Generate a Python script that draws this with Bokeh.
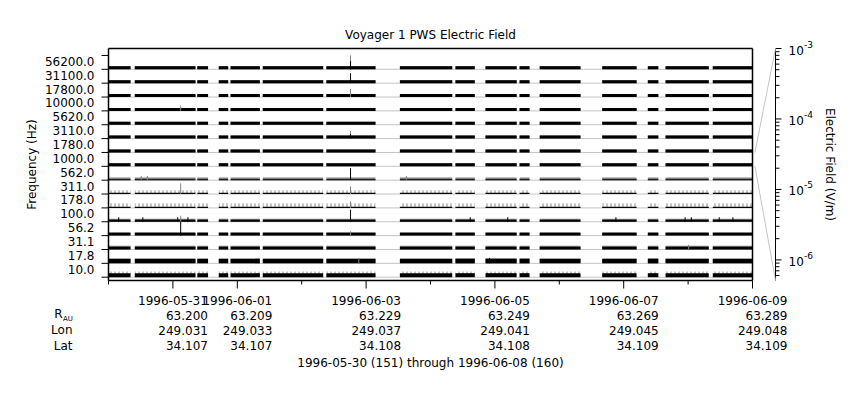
import math
from bokeh.plotting import figure
from bokeh.models import Range1d, ColumnDataSource
from bokeh.core.properties import value
from bokeh.embed import file_html
from bokeh.resources import INLINE

# ---------------- data ----------------
title_text = "Voyager 1 PWS Electric Field"
span_text = "1996-05-30 (151) through 1996-06-08 (160)"
y_title = "Frequency (Hz)"
y2_title = "Electric Field (V/m)"

channel_labels = ["10.0", "17.8", "31.1", "56.2", "100.0", "178.0", "311.0", "562.0",
                  "1000.0", "1780.0", "3110.0", "5620.0", "10000.0", "17800.0", "31100.0", "56200.0"]

# data coverage (hours after 1996-05-30 00:00)
seg_start_h = [0.0, 9.8, 33.1, 41.1, 45.5, 57.5, 81.2, 108.6, 129.3, 140.5, 153.2, 160.7, 184.0, 201.0, 207.6, 225.2]
seg_end_h = [8.2, 32.4, 37.1, 44.6, 56.4, 80.0, 99.5, 128.1, 136.5, 152.1, 156.9, 175.9, 196.8, 204.9, 223.7, 240.0]

# background levels per channel (V/m): average (black) and peak (grey)
avg_level = [4.6e-6, 6.7e-6, 2.2e-6, 2.2e-6, 1.5e-6, 1.0e-6, 1.0e-6, 8.8e-7,
             2.6e-6, 2.6e-6, 2.6e-6, 2.6e-6, 2.6e-6, 2.6e-6, 2.6e-6, 2.6e-6]
peak_level = [1.1e-5, 6.7e-6, 3.9e-6, 3.9e-6, 2.6e-6, 6.7e-6, 3.9e-6, 2.2e-6,
              2.6e-6, 2.6e-6, 2.6e-6, 2.6e-6, 2.6e-6, 2.6e-6, 2.6e-6, 2.6e-6]
peak_sparse = [True, False, False, False, False, True, True, False,
               False, False, False, False, False, False, False, False]

# individual events
spike_time_h = [90.2, 90.2, 90.2, 90.2, 90.2, 90.2, 90.2, 90.2, 90.2, 90.2, 90.2,
                93.3, 142.0, 26.9, 26.9, 26.9, 26.9,
                3.8, 12.8, 25.8, 29.6, 134.8, 148.8, 189.1, 214.9, 217.2, 227.6, 232.7,
                216.2, 12.2, 14.5, 111.0]
spike_channel = [15, 15, 14, 13, 10, 10, 7, 6, 5, 4, 3,
                 1, 1, 12, 6, 4, 3,
                 4, 4, 4, 4, 4, 4, 4, 4, 4, 4, 4,
                 2, 7, 7, 7]
spike_value = [1.0e-3, 4.8e-5, 1.2e-4, 4.1e-5, 2.9e-5, 6.7e-6, 3.6e-4, 3.3e-5, 1.6e-5, 3.6e-4, 5.4e-6,
               1.0e-5, 1.0e-5, 9.0e-6, 1.7e-4, 1.4e-5, 9.5e-4,
               6.0e-6, 6.0e-6, 6.0e-6, 6.0e-6, 6.0e-6, 6.0e-6, 6.0e-6, 6.0e-6, 6.0e-6, 6.0e-6, 6.0e-6,
               6.7e-6, 4.5e-6, 4.5e-6, 4.5e-6]
spike_kind = ["peak", "avg", "avg", "peak", "peak", "avg", "avg", "peak", "peak", "avg", "peak",
              "peak", "avg", "peak", "peak", "peak", "avg",
              "avg", "avg", "avg", "avg", "avg", "avg", "avg", "avg", "avg", "avg", "avg",
              "peak", "peak", "peak", "peak"]

day_tick_h = [24, 48, 96, 144, 192, 240]
day_labels = ["1996-05-31", "1996-06-01", "1996-06-03", "1996-06-05", "1996-06-07", "1996-06-09"]
minor_day_tick_h = [0, 72, 120, 168, 216]
r_au = ["63.200", "63.209", "63.229", "63.249", "63.269", "63.289"]
lon = ["249.031", "249.033", "249.037", "249.041", "249.045", "249.048"]
lat = ["34.107", "34.107", "34.108", "34.108", "34.109", "34.109"]
row_names = ["Lon", "Lat"]

# right (electric field) axis
E_MIN, E_MAX = 5.1e-7, 1.0e-3
ef_major = [1e-6, 1e-5, 1e-4, 1e-3]
ef_exponents = ["-6", "-5", "-4", "-3"]
T_END = 240.0
scale_channel = channel_labels.index("1000.0")

# ---------------- layout ----------------
FONT = "DejaVu Sans"
FS = "12px"
W, H = 852, 392
X0 = 108            # canvas x of hour 0 (left edge of the box)
Y_BOT = 280         # canvas y of the box bottom
Y_TOP = 48          # canvas y of the box top
X_RAX = 775         # canvas x of the right axis line
px_per_h = 644.0 / T_END
band_px = 13.86
y_start = -0.5 - 3.3 / band_px                      # band coordinate of the box bottom
y_box = y_start + (Y_BOT - Y_TOP) / band_px          # band coordinate of the box top
x_rax = (X_RAX - X0) / px_per_h
D = math.log10(E_MAX) - math.log10(E_MIN)


def frac(e):
    f = (math.log10(e) - math.log10(E_MIN)) / D
    return max(0.0, min(1.0, f))


def ry(e):
    return y_start + frac(e) * (y_box - y_start)


p = figure(width=W, height=H, output_backend="svg", toolbar_location=None, title=None,
           x_range=Range1d(-X0 / px_per_h, (W - X0) / px_per_h),
           y_range=Range1d(y_start - (H - Y_BOT) / band_px, y_start + Y_BOT / band_px),
           min_border=0, min_border_left=0, min_border_right=0, min_border_top=0, min_border_bottom=0,
           x_axis_location=None, y_axis_location=None)
p.outline_line_color = None
p.background_fill_color = "white"
p.border_fill_color = "white"
for g in p.grid:
    g.visible = False

nch = len(channel_labels)
hx = 1.0 / px_per_h     # one pixel in hours
hy = 1.0 / band_px      # one pixel in band units


def txt(xs, ys, texts, align="center", xo=0, yo=0, size=FS, angle=0.0, baseline="middle"):
    p.text(x=xs, y=ys, text=texts, text_align=align, text_baseline=baseline,
           x_offset=xo, y_offset=yo, angle=angle, text_font=value(FONT),
           text_font_size=value(size), text_color="black")


# baselines
p.segment(x0=[0.0] * nch, x1=[T_END] * nch, y0=[k - 0.5 for k in range(nch)],
          y1=[k - 0.5 for k in range(nch)], line_color="#c4c4c4", line_width=1)

# background bars
solid = dict(left=[], right=[], bottom=[], top=[])
sparse = dict(left=[], right=[], bottom=[], top=[])
avg = dict(left=[], right=[], bottom=[], top=[])
for k in range(nch):
    for s, e in zip(seg_start_h, seg_end_h):
        tgt = sparse if peak_sparse[k] else solid
        tgt["left"].append(s); tgt["right"].append(e)
        tgt["bottom"].append(k - 0.5); tgt["top"].append(k - 0.5 + frac(peak_level[k]))
        avg["left"].append(s); avg["right"].append(e)
        avg["bottom"].append(k - 0.5); avg["top"].append(k - 0.5 + frac(avg_level[k]))

p.quad(source=ColumnDataSource(solid), fill_color="#808080", line_color=None)
p.quad(source=ColumnDataSource(sparse), fill_color=None, line_color=None,
       hatch_pattern="vertical_line", hatch_color="#8c8c8c", hatch_scale=4, hatch_weight=1)
p.quad(source=ColumnDataSource(avg), fill_color="black", line_color=None)

# spikes
for kind, col in (("peak", "#808080"), ("avg", "black")):
    xs, y0s, y1s = [], [], []
    for t, k, v, kd in zip(spike_time_h, spike_channel, spike_value, spike_kind):
        if kd == kind:
            xs.append(t); y0s.append(k - 0.5); y1s.append(k - 0.5 + frac(v))
    p.segment(x0=xs, x1=xs, y0=y0s, y1=y1s, line_color=col, line_width=1)

# plot box
p.segment(x0=[0.0, 0.0, 0.0, T_END], x1=[T_END, T_END, 0.0, T_END],
          y0=[y_start, y_box, y_start, y_start], y1=[y_start, y_box, y_box, y_box],
          line_color="black", line_width=1.5)

# left axis: boundary ticks + channel labels + title
bounds = [k - 0.5 for k in range(nch + 1)]
p.segment(x0=[0.0] * len(bounds), x1=[-7 * hx] * len(bounds), y0=bounds, y1=bounds,
          line_color="black", line_width=1)
txt([0.0] * nch, list(range(nch)), channel_labels, align="right", xo=-14, yo=-1)
txt([0.0], [(y_start + y_box) / 2], [y_title], align="center", xo=-77, angle=math.pi / 2)

# bottom axis: day ticks + date labels
p.segment(x0=day_tick_h, x1=day_tick_h, y0=[y_start] * len(day_tick_h),
          y1=[y_start - 8 * hy] * len(day_tick_h), line_color="black", line_width=1)
p.segment(x0=minor_day_tick_h, x1=minor_day_tick_h, y0=[y_start] * len(minor_day_tick_h),
          y1=[y_start - 4 * hy] * len(minor_day_tick_h), line_color="black", line_width=1)
n = len(day_tick_h)
txt(day_tick_h, [y_start] * n, day_labels, yo=20)
txt(day_tick_h, [y_start] * n, r_au, align="right", xo=35, yo=34.5)
txt(day_tick_h, [y_start] * n, lon, align="right", xo=35, yo=49.5)
txt(day_tick_h, [y_start] * n, lat, align="right", xo=35, yo=65)
txt([0.0], [y_start], ["R"], align="right", xo=-46, yo=33.5)
txt([0.0], [y_start], ["AU"], align="left", xo=-45.5, yo=38, size="7px")
txt([0.0, 0.0], [y_start, y_start], row_names, align="right", xo=-36, yo=[49.5, 65])
txt([T_END / 2], [y_start], [span_text], yo=82)

# right axis (electric field, log)
p.segment(x0=[x_rax], x1=[x_rax], y0=[y_start], y1=[y_box], line_color="black", line_width=1)
ef_minor = [m * 10.0 ** d for d in range(-7, -2) for m in range(2, 10)
            if E_MIN <= m * 10.0 ** d <= E_MAX]
p.segment(x0=[x_rax] * len(ef_minor), x1=[x_rax + 4 * hx] * len(ef_minor),
          y0=[ry(e) for e in ef_minor], y1=[ry(e) for e in ef_minor], line_color="black", line_width=1)
p.segment(x0=[x_rax] * len(ef_major), x1=[x_rax + 6 * hx] * len(ef_major),
          y0=[ry(e) for e in ef_major], y1=[ry(e) for e in ef_major], line_color="black", line_width=1)
m = len(ef_major)
txt([x_rax] * m, [ry(e) for e in ef_major], ["10"] * m, align="left", xo=13, yo=1.5)
txt([x_rax] * m, [ry(e) for e in ef_major], ef_exponents, align="left", xo=28.5, yo=-4.5, size="9px")
txt([x_rax], [(y_start + y_box) / 2], [y2_title], align="center", xo=54, angle=-math.pi / 2)

# connector from the scale channel to the right axis
b = scale_channel - 0.5
p.segment(x0=[T_END + 0.9, T_END + 0.9], x1=[x_rax, x_rax], y0=[b + 1, b], y1=[y_box, y_start],
          line_color="#c4c4c4", line_width=1)

# title
txt([T_END / 2], [y_box], [title_text], yo=-14)

open("out.html", "w").write(file_html(p, INLINE))
